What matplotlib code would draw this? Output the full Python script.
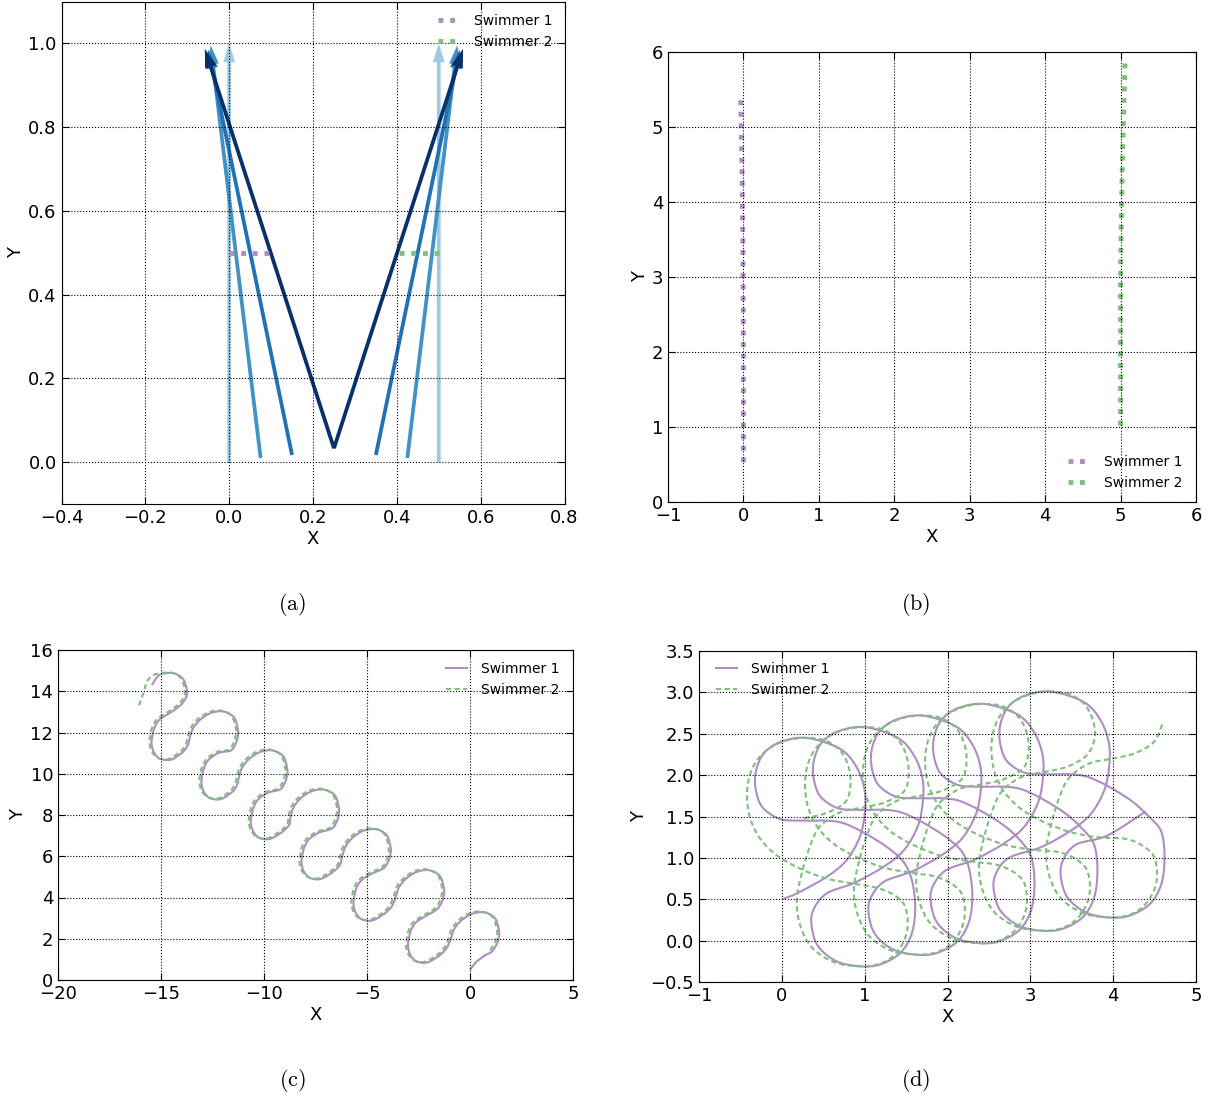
import matplotlib
matplotlib.use('Agg')
import matplotlib.pyplot as plt
from matplotlib.path import Path
from matplotlib.patches import PathPatch

plt.rcParams['mathtext.fontset'] = 'cm'

W, H = 1209, 1099
purple = '#af8dc3'
green = '#7fbf7b'
blues = ['#9ecae1', '#4292c6', '#2171b5', '#08306b']

# (a) swimmer bodies at four instants (tail -> head)
s1_tail_x = [0.0, 0.075, 0.15, 0.25]
s1_tail_y = [0.0, 0.010, 0.017, 0.033]
s1_head_x = [0.0, -0.044, -0.050, -0.058]
s1_head_y = [1.0, 0.995, 0.985, 0.987]
s2_tail_x = [0.5, 0.425, 0.35, 0.25]
s2_tail_y = [0.0, 0.010, 0.017, 0.033]
s2_head_x = [0.5, 0.544, 0.550, 0.558]
s2_head_y = [1.0, 0.995, 0.985, 0.987]
# (a) centre paths
a_s1_x = [0.0, 0.016, 0.05, 0.096]
a_s1_y = [0.5, 0.5, 0.5, 0.5]
a_s2_x = [0.5, 0.484, 0.45, 0.404]
a_s2_y = [0.5, 0.5, 0.5, 0.5]

# (b) centre paths
b_s1_x = [0.0, 0.0, -0.002, -0.008, -0.02, -0.036]
b_s1_y = [0.53, 1.5, 2.5, 3.5, 4.5, 5.36]
b_s2_x = [5.0, 5.0, 5.0, 5.01, 5.03, 5.05, 5.06]
b_s2_y = [1.02, 2.0, 3.0, 3.8, 4.8, 5.5, 5.86]

# (c) centre paths
c_s1 = [(0.00, 0.48), (0.28, 0.85), (0.68, 1.16),
        (1.08, 1.40), (1.33, 1.81), (1.40, 2.09), (1.41, 2.37), (1.25, 2.94), (0.92, 3.21), (0.52, 3.29),
        (0.03, 3.18), (-0.45, 2.86), (-0.78, 2.45), (-0.94, 1.97),
        (-1.13, 1.56), (-1.42, 1.24), (-1.91, 0.92), (-2.23, 0.83), (-2.64, 0.92), (-2.91, 1.24),
        (-3.01, 1.64), (-2.97, 2.00), (-2.88, 2.37), (-2.64, 2.78), (-2.15, 3.10),
        (-1.59, 3.44), (-1.34, 3.85), (-1.27, 4.13), (-1.26, 4.41), (-1.42, 4.98), (-1.75, 5.25), (-2.15, 5.33),
        (-2.64, 5.22), (-3.12, 4.90), (-3.45, 4.49), (-3.61, 4.01),
        (-3.78, 3.60), (-4.07, 3.28), (-4.56, 2.96), (-4.88, 2.87), (-5.29, 2.96), (-5.56, 3.28),
        (-5.66, 3.68), (-5.62, 4.04), (-5.53, 4.41), (-5.29, 4.82), (-4.80, 5.14),
        (-4.18, 5.43), (-3.93, 5.84), (-3.86, 6.12), (-3.85, 6.40), (-4.01, 6.97), (-4.34, 7.24), (-4.74, 7.32),
        (-5.23, 7.21), (-5.71, 6.89), (-6.04, 6.48), (-6.20, 6.00),
        (-6.30, 5.61), (-6.59, 5.29), (-7.08, 4.97), (-7.40, 4.88), (-7.81, 4.97), (-8.08, 5.29),
        (-8.18, 5.69), (-8.14, 6.05), (-8.05, 6.42), (-7.81, 6.83), (-7.32, 7.15),
        (-6.69, 7.35), (-6.44, 7.76), (-6.37, 8.04), (-6.36, 8.32), (-6.52, 8.89), (-6.85, 9.16), (-7.25, 9.24),
        (-7.74, 9.13), (-8.22, 8.81), (-8.55, 8.40), (-8.71, 7.92),
        (-8.76, 7.55), (-9.05, 7.23), (-9.54, 6.91), (-9.86, 6.82), (-10.27, 6.91), (-10.54, 7.23),
        (-10.64, 7.63), (-10.60, 7.99), (-10.51, 8.36), (-10.27, 8.77), (-9.78, 9.09),
        (-9.20, 9.25), (-8.95, 9.66), (-8.88, 9.94), (-8.87, 10.22), (-9.03, 10.79), (-9.36, 11.06), (-9.76, 11.14),
        (-10.25, 11.03), (-10.73, 10.71), (-11.06, 10.30), (-11.22, 9.82),
        (-11.30, 9.48), (-11.50, 9.16), (-11.94, 8.84), (-12.26, 8.75), (-12.67, 8.84), (-12.94, 9.16),
        (-13.04, 9.56), (-13.00, 9.92), (-12.91, 10.29), (-12.67, 10.70), (-12.18, 11.02),
        (-11.59, 11.14), (-11.34, 11.55), (-11.27, 11.83), (-11.26, 12.11), (-11.42, 12.68), (-11.75, 12.95),
        (-12.15, 13.03), (-12.64, 12.92), (-13.12, 12.60), (-13.45, 12.19), (-13.61, 11.71),
        (-13.70, 11.39), (-13.92, 11.07), (-14.36, 10.75), (-14.68, 10.66), (-15.09, 10.75), (-15.36, 11.07),
        (-15.46, 11.47), (-15.42, 11.83), (-15.33, 12.20), (-15.09, 12.61), (-14.60, 12.93),
        (-14.10, 13.28), (-13.85, 13.58), (-13.75, 13.80), (-13.74, 14.03), (-13.90, 14.55), (-14.23, 14.82),
        (-14.63, 14.89), (-15.11, 14.77), (-15.44, 14.30)]
c_s2 = [(0.98, 1.44), (1.23, 1.85), (1.30, 2.13), (1.31, 2.41), (1.15, 2.98), (0.82, 3.25), (0.42, 3.33),
        (-0.07, 3.22), (-0.55, 2.90), (-0.88, 2.49), (-1.04, 2.01),
        (-1.23, 1.60), (-1.52, 1.28), (-2.01, 0.96), (-2.33, 0.87), (-2.74, 0.96), (-3.01, 1.28),
        (-3.11, 1.68), (-3.07, 2.04), (-2.98, 2.41), (-2.74, 2.82), (-2.25, 3.14),
        (-1.69, 3.48), (-1.44, 3.89), (-1.37, 4.17), (-1.36, 4.45), (-1.52, 5.02), (-1.85, 5.29), (-2.25, 5.37),
        (-2.74, 5.26), (-3.22, 4.94), (-3.55, 4.53), (-3.71, 4.05),
        (-3.88, 3.64), (-4.17, 3.32), (-4.66, 3.00), (-4.98, 2.91), (-5.39, 3.00), (-5.66, 3.32),
        (-5.76, 3.72), (-5.72, 4.08), (-5.63, 4.45), (-5.39, 4.86), (-4.90, 5.18),
        (-4.28, 5.47), (-4.03, 5.88), (-3.96, 6.16), (-3.95, 6.44), (-4.11, 7.01), (-4.44, 7.28), (-4.84, 7.36),
        (-5.33, 7.25), (-5.81, 6.93), (-6.14, 6.52), (-6.30, 6.04),
        (-6.40, 5.65), (-6.69, 5.33), (-7.18, 5.01), (-7.50, 4.92), (-7.91, 5.01), (-8.18, 5.33),
        (-8.28, 5.73), (-8.24, 6.09), (-8.15, 6.46), (-7.91, 6.87), (-7.42, 7.19),
        (-6.79, 7.39), (-6.54, 7.80), (-6.47, 8.08), (-6.46, 8.36), (-6.62, 8.93), (-6.95, 9.20), (-7.35, 9.28),
        (-7.84, 9.17), (-8.32, 8.85), (-8.65, 8.44), (-8.81, 7.96),
        (-8.86, 7.59), (-9.15, 7.27), (-9.64, 6.95), (-9.96, 6.86), (-10.37, 6.95), (-10.64, 7.27),
        (-10.74, 7.67), (-10.70, 8.03), (-10.61, 8.40), (-10.37, 8.81), (-9.88, 9.13),
        (-9.30, 9.29), (-9.05, 9.70), (-8.98, 9.98), (-8.97, 10.26), (-9.13, 10.83), (-9.46, 11.10), (-9.86, 11.18),
        (-10.35, 11.07), (-10.83, 10.75), (-11.16, 10.34), (-11.32, 9.86),
        (-11.40, 9.52), (-11.60, 9.20), (-12.04, 8.88), (-12.36, 8.79), (-12.77, 8.88), (-13.04, 9.20),
        (-13.14, 9.60), (-13.10, 9.96), (-13.01, 10.33), (-12.77, 10.74), (-12.28, 11.06),
        (-11.69, 11.18), (-11.44, 11.59), (-11.37, 11.87), (-11.36, 12.15), (-11.52, 12.72), (-11.85, 12.99),
        (-12.25, 13.07), (-12.74, 12.96), (-13.22, 12.64), (-13.55, 12.23), (-13.71, 11.75),
        (-13.80, 11.43), (-14.02, 11.11), (-14.46, 10.79), (-14.78, 10.70), (-15.19, 10.79), (-15.46, 11.11),
        (-15.56, 11.51), (-15.52, 11.87), (-15.43, 12.24), (-15.19, 12.65), (-14.70, 12.97),
        (-14.20, 13.32), (-13.95, 13.62), (-13.85, 13.84), (-13.84, 14.07), (-14.00, 14.59), (-14.33, 14.85),
        (-14.74, 14.91), (-15.36, 14.79), (-15.68, 14.47), (-15.84, 13.95), (-16.08, 13.30)]

# (d) centre paths
d_s1 = [(0.00, 0.50), (0.18, 0.57), (0.54, 0.77), (0.78, 0.97),
        (0.94, 1.25), (1.00, 1.53), (1.00, 1.82), (0.90, 2.10), (0.70, 2.32), (0.30, 2.45), (-0.02, 2.40),
        (-0.22, 2.26), (-0.31, 2.06), (-0.32, 1.86), (-0.26, 1.65), (-0.14, 1.53), (0.02, 1.46), (0.30, 1.45),
        (0.54, 1.45), (0.74, 1.42), (0.98, 1.31), (1.27, 1.13), (1.47, 0.95),
        (1.57, 0.73), (1.61, 0.41), (1.57, 0.09), (1.43, -0.15), (1.18, -0.29), (0.94, -0.31), (0.66, -0.25),
        (0.44, -0.07), (0.36, 0.17), (0.38, 0.37), (0.54, 0.57),
        (0.88, 0.70), (1.24, 0.90), (1.48, 1.10),
        (1.64, 1.38), (1.70, 1.66), (1.70, 1.95), (1.60, 2.23), (1.40, 2.45), (1.00, 2.58), (0.68, 2.53),
        (0.48, 2.39), (0.39, 2.19), (0.38, 1.99), (0.44, 1.78), (0.56, 1.66), (0.72, 1.59), (1.00, 1.58),
        (1.24, 1.58), (1.44, 1.55), (1.68, 1.44), (1.97, 1.26), (2.17, 1.08),
        (2.26, 0.87), (2.30, 0.55), (2.26, 0.23), (2.12, -0.01), (1.87, -0.15), (1.63, -0.17), (1.35, -0.11),
        (1.13, 0.07), (1.05, 0.31), (1.07, 0.51), (1.23, 0.71),
        (1.58, 0.84), (1.94, 1.04), (2.18, 1.24),
        (2.34, 1.52), (2.40, 1.80), (2.40, 2.09), (2.30, 2.37), (2.10, 2.59), (1.70, 2.72), (1.38, 2.67),
        (1.18, 2.53), (1.09, 2.33), (1.08, 2.13), (1.14, 1.92), (1.26, 1.80), (1.42, 1.73), (1.70, 1.72),
        (1.94, 1.72), (2.14, 1.69), (2.38, 1.58), (2.67, 1.40), (2.87, 1.22),
        (3.01, 1.01), (3.05, 0.69), (3.01, 0.37), (2.87, 0.13), (2.62, -0.01), (2.38, -0.03), (2.10, 0.03),
        (1.88, 0.21), (1.80, 0.45), (1.82, 0.65), (1.98, 0.85),
        (2.33, 0.98), (2.69, 1.18), (2.93, 1.38),
        (3.09, 1.66), (3.15, 1.94), (3.15, 2.23), (3.05, 2.51), (2.85, 2.73), (2.45, 2.86), (2.13, 2.81),
        (1.93, 2.67), (1.84, 2.47), (1.83, 2.27), (1.89, 2.06), (2.01, 1.94), (2.17, 1.87), (2.45, 1.86),
        (2.69, 1.86), (2.89, 1.83), (3.13, 1.72), (3.42, 1.54), (3.62, 1.36),
        (3.77, 1.16), (3.81, 0.84), (3.77, 0.52), (3.63, 0.28), (3.38, 0.14), (3.14, 0.12), (2.86, 0.18),
        (2.64, 0.36), (2.56, 0.60), (2.58, 0.80), (2.74, 1.00),
        (3.13, 1.13), (3.49, 1.33), (3.73, 1.53),
        (3.89, 1.81), (3.95, 2.09), (3.95, 2.38), (3.85, 2.66), (3.65, 2.88), (3.25, 3.01), (2.93, 2.96),
        (2.73, 2.82), (2.64, 2.62), (2.63, 2.42), (2.69, 2.21), (2.81, 2.09), (2.97, 2.02), (3.25, 2.01),
        (3.49, 2.01), (3.69, 1.98), (3.93, 1.87), (4.22, 1.69), (4.42, 1.51),
        (4.58, 1.32), (4.62, 1.00), (4.58, 0.68), (4.44, 0.44), (4.19, 0.30), (3.95, 0.28), (3.67, 0.34),
        (3.45, 0.52), (3.37, 0.76), (3.39, 0.96), (3.55, 1.16),
        (3.93, 1.27), (4.39, 1.56)]
d_s2 = [(0.27, 1.48), (0.53, 1.54), (0.77, 1.68),
        (0.83, 1.90), (0.80, 2.12), (0.70, 2.30), (0.52, 2.42), (0.30, 2.45), (0.06, 2.42), (-0.16, 2.32),
        (-0.32, 2.15), (-0.40, 1.95), (-0.42, 1.73), (-0.38, 1.47), (-0.26, 1.23), (-0.06, 1.03), (0.22, 0.87),
        (0.54, 0.75), (0.86, 0.69),
        (1.14, 0.64), (1.34, 0.56), (1.48, 0.43), (1.52, 0.21), (1.48, 0.01), (1.36, -0.17), (1.18, -0.28),
        (0.94, -0.31), (0.63, -0.26), (0.36, -0.08), (0.22, 0.19), (0.18, 0.49),
        (0.24, 0.81), (0.34, 1.14), (0.46, 1.38), (0.70, 1.55), (0.98, 1.61), (1.24, 1.67), (1.48, 1.81),
        (1.53, 2.03), (1.50, 2.25), (1.40, 2.43), (1.22, 2.55), (1.00, 2.58), (0.76, 2.55), (0.54, 2.45),
        (0.38, 2.28), (0.30, 2.08), (0.28, 1.86), (0.32, 1.60), (0.44, 1.36), (0.64, 1.16), (0.92, 1.00),
        (1.24, 0.88), (1.56, 0.82),
        (1.83, 0.78), (2.03, 0.70), (2.17, 0.57), (2.21, 0.35), (2.17, 0.15), (2.05, -0.03), (1.87, -0.14),
        (1.63, -0.17), (1.32, -0.12), (1.05, 0.06), (0.91, 0.33), (0.87, 0.63),
        (0.93, 0.95), (1.03, 1.28), (1.15, 1.52), (1.39, 1.69), (1.67, 1.75), (1.93, 1.81), (2.17, 1.95),
        (2.23, 2.17), (2.20, 2.39), (2.10, 2.57), (1.92, 2.69), (1.70, 2.72), (1.46, 2.69), (1.24, 2.59),
        (1.08, 2.42), (1.00, 2.22), (0.98, 2.00), (1.02, 1.74), (1.14, 1.50), (1.34, 1.30), (1.62, 1.14),
        (1.94, 1.02), (2.26, 0.96),
        (2.58, 0.92), (2.78, 0.84), (2.92, 0.71), (2.96, 0.49), (2.92, 0.29), (2.80, 0.11), (2.62, 0.00),
        (2.38, -0.03), (2.07, 0.02), (1.80, 0.20), (1.66, 0.47), (1.62, 0.77),
        (1.68, 1.09), (1.78, 1.42), (1.90, 1.66), (2.14, 1.83), (2.42, 1.89), (2.68, 1.95), (2.92, 2.09),
        (2.98, 2.31), (2.95, 2.53), (2.85, 2.71), (2.67, 2.83), (2.45, 2.86), (2.21, 2.83), (1.99, 2.73),
        (1.83, 2.56), (1.75, 2.36), (1.73, 2.14), (1.77, 1.88), (1.89, 1.64), (2.09, 1.44), (2.37, 1.28),
        (2.69, 1.16), (3.01, 1.10),
        (3.34, 1.07), (3.54, 0.99), (3.68, 0.86), (3.72, 0.64), (3.68, 0.44), (3.56, 0.26), (3.38, 0.15),
        (3.14, 0.12), (2.83, 0.17), (2.56, 0.35), (2.42, 0.62), (2.38, 0.92),
        (2.44, 1.24), (2.54, 1.57), (2.66, 1.81), (2.90, 1.98), (3.18, 2.04), (3.44, 2.10), (3.68, 2.24),
        (3.78, 2.46), (3.75, 2.68), (3.65, 2.86), (3.47, 2.98), (3.25, 3.01), (3.01, 2.98), (2.79, 2.88),
        (2.63, 2.71), (2.55, 2.51), (2.53, 2.29), (2.57, 2.03), (2.69, 1.79), (2.89, 1.59), (3.17, 1.43),
        (3.49, 1.31), (3.81, 1.25),
        (4.15, 1.23), (4.35, 1.15), (4.49, 1.02), (4.53, 0.80), (4.49, 0.60), (4.37, 0.42), (4.19, 0.31),
        (3.95, 0.28), (3.64, 0.33), (3.37, 0.51), (3.23, 0.78), (3.19, 1.08),
        (3.25, 1.40), (3.35, 1.73), (3.47, 1.97), (3.71, 2.14), (3.99, 2.20), (4.25, 2.26), (4.49, 2.40),
        (4.60, 2.63)]

fig = plt.figure(figsize=(W / 100, H / 100), dpi=100)


def panel(left, top, right, bottom):
    return fig.add_axes([left / W, 1 - bottom / H, (right - left) / W, (bottom - top) / H])


def decorate(ax):
    ax.grid(True, color='k', linestyle=':', linewidth=0.8)
    ax.set_axisbelow(False)
    ax.tick_params(direction='in', top=True, right=True, labelsize=13, length=5, width=0.8)
    ax.set_xlabel('X', fontsize=13, labelpad=2)
    ax.set_ylabel('Y', fontsize=13, labelpad=2)


def smooth(points):
    # cubic pieces through the traced points (Catmull-Rom tangents)
    verts, codes = [points[0]], [Path.MOVETO]
    n = len(points)
    for i in range(n - 1):
        p0, p1 = points[max(i - 1, 0)], points[i]
        p2, p3 = points[i + 1], points[min(i + 2, n - 1)]
        verts += [(p1[0] + (p2[0] - p0[0]) / 6, p1[1] + (p2[1] - p0[1]) / 6),
                  (p2[0] - (p3[0] - p1[0]) / 6, p2[1] - (p3[1] - p1[1]) / 6), p2]
        codes += [Path.CURVE4] * 3
    return Path(verts, codes)


def trace(ax, points, color, label, dashed=False):
    ls = (0, (2.5, 1.6)) if dashed else '-'
    ax.add_patch(PathPatch(smooth(points), fill=False, edgecolor=color, lw=1.5,
                           linestyle=ls, joinstyle='round', zorder=2))
    ax.plot([], [], color=color, lw=1.5, linestyle=ls, label=label)


# (a)
ax = panel(61.5, 1.5, 564.5, 504)
for tx, ty, hx, hy, c in zip(s1_tail_x + s2_tail_x, s1_tail_y + s2_tail_y,
                             s1_head_x + s2_head_x, s1_head_y + s2_head_y, blues + blues):
    ax.arrow(tx, ty, hx - tx, hy - ty, width=0.009, head_width=0.028, head_length=0.045,
             length_includes_head=True, color=c, linewidth=0)
ax.plot(a_s1_x, a_s1_y, color=purple, lw=3.5, dashes=(1.0, 1.4), label='Swimmer 1', zorder=3)
ax.plot(a_s2_x, a_s2_y, color=green, lw=3.5, dashes=(1.0, 1.4), label='Swimmer 2', zorder=3)
ax.set_xlim(-0.4, 0.8)
ax.set_ylim(-0.1, 1.1)
ax.set_xticks([-0.4, -0.2, 0.0, 0.2, 0.4, 0.6, 0.8])
ax.set_yticks([0.0, 0.2, 0.4, 0.6, 0.8, 1.0])
decorate(ax)
ax.legend(loc='upper right', bbox_to_anchor=(0.988, 0.986), borderaxespad=0, frameon=False,
          fontsize=10, handlelength=1.4, handletextpad=1.2, labelspacing=0.5)

# (b)
ax = panel(668, 52, 1196, 502)
ax.plot(b_s1_x, b_s1_y, color=purple, lw=3.5, dashes=(1.0, 1.37), label='Swimmer 1')
ax.plot(b_s2_x, b_s2_y, color=green, lw=3.5, dashes=(1.0, 1.37), label='Swimmer 2')
ax.set_xlim(-1, 6)
ax.set_ylim(0, 6)
ax.set_xticks(range(-1, 7))
ax.set_yticks(range(0, 7))
decorate(ax)
ax.legend(loc='lower right', bbox_to_anchor=(0.9843, 0.014), borderaxespad=0, frameon=False,
          fontsize=10, handlelength=1.4, handletextpad=1.2, labelspacing=0.5)

# (c)
ax = panel(58, 650, 573, 980)
trace(ax, c_s1, purple, 'Swimmer 1')
trace(ax, c_s2, green, 'Swimmer 2', dashed=True)
ax.set_xlim(-20, 5)
ax.set_ylim(0, 16)
ax.set_xticks(range(-20, 6, 5))
ax.set_yticks(range(0, 17, 2))
decorate(ax)
ax.legend(loc='upper right', bbox_to_anchor=(0.984, 0.981), borderaxespad=0, frameon=False,
          fontsize=10, handlelength=1.5, handletextpad=1.0, labelspacing=0.5)

# (d)
ax = panel(699, 651, 1196, 982)
trace(ax, d_s1, purple, 'Swimmer 1')
trace(ax, d_s2, green, 'Swimmer 2', dashed=True)
ax.set_xlim(-1, 5)
ax.set_ylim(-0.5, 3.5)
ax.set_xticks(range(-1, 6))
ax.set_yticks([-0.5, 0.0, 0.5, 1.0, 1.5, 2.0, 2.5, 3.0, 3.5])
decorate(ax)
ax.legend(loc='upper left', bbox_to_anchor=(0.023, 0.984), borderaxespad=0, frameon=False,
          fontsize=10, handlelength=1.5, handletextpad=1.0, labelspacing=0.5)

for label, x, y in [('(a)', 292, 605), ('(b)', 916, 605), ('(c)', 292, 1081), ('(d)', 916, 1081)]:
    fig.text(x / W, 1 - y / H, r'$\mathrm{%s}$' % label, ha='center', va='center', fontsize=16)

fig.savefig('out.png', dpi=100)
